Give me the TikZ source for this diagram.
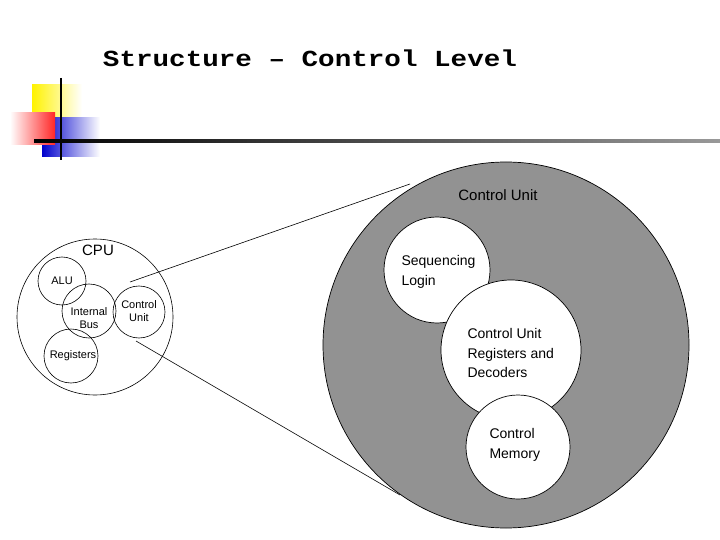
\documentclass[tikz,border=0pt]{standalone}
\usepackage{fontspec}
\setmainfont{Liberation Sans}
\newfontfamily\monob{Liberation Mono}
\begin{document}
\begin{tikzpicture}[x=1pt,y=-1pt,
  circ/.style={draw=black,line width=0.7pt,fill=white},
  lbl/.style={font=\fontsize{14}{19.5}\selectfont,align=left},
  sl/.style={font=\fontsize{11}{13}\selectfont,align=center,inner sep=0pt}]
\useasboundingbox (0,0) rectangle (720,540);
% decoration
\shade[left color=yellow!90!orange,right color=white] (32,85) rectangle (82,117);
\shade[left color=blue!80!black,right color=white] (42,118) rectangle (100,157);
\shade[right color=red!85,left color=white] (10,113) rectangle (55,145);
\draw[line width=1.8pt] (61,78) -- (61,160);
\shade[left color=black,right color=gray!80] (34,140) rectangle (720,142.5);
\node[font=\monob\bfseries\fontsize{23}{26}\selectfont,xscale=1.2] (title) at (310,58) {Structure – Control Level};
% big circle
\node[circle,draw=black,line width=0.7pt,fill=gray!45!black!55,minimum size=366pt,inner sep=0pt] (big) at (506,345) {};
\node[font=\fontsize{15}{16}\selectfont] (cut) at (498,195) {Control Unit};
\node[circle,circ,minimum size=106pt,inner sep=0pt] (seq) at (437,270) {};
\node[circle,circ,minimum size=140pt,inner sep=0pt] (cur) at (511,350) {};
\node[circle,circ,minimum size=104pt,inner sep=0pt] (cm) at (518,447) {};
\node[lbl,anchor=west] (seqt) at (398,272) {Sequencing\\Login};
\node[lbl,anchor=west] (curt) at (464,353) {Control Unit\\Registers and\\Decoders};
\node[lbl,anchor=west] (cmt) at (486,445) {Control\\Memory};
% small CPU
\node[circle,draw=black,line width=0.6pt,minimum size=156pt,inner sep=0pt] (cpu) at (95,317) {};
\node[font=\fontsize{15}{16}\selectfont] (cput) at (98,250) {CPU};
\node[circle,draw,line width=0.6pt,minimum size=48pt,inner sep=0pt] (alu) at (62,281) {};
\node[circle,draw,line width=0.6pt,minimum size=54pt,inner sep=0pt] (bus) at (89,311) {};
\node[circle,draw,line width=0.6pt,minimum size=52pt,inner sep=0pt] (cu) at (139,312) {};
\node[circle,draw,line width=0.6pt,minimum size=54pt,inner sep=0pt] (reg) at (71,356) {};
\node[sl] at (62,281) {ALU};
\node[sl] at (89,318) {Internal\\Bus};
\node[sl] at (139,311) {Control\\Unit};
\node[sl] at (73,356) {Registers};
\coordinate (a1) at (130,282);
\coordinate (a2) at (136,341);
\coordinate (b1) at (410,184);
\coordinate (b2) at (400,495);
\draw[line width=0.6pt] (a1) -- (b1);
\draw[line width=0.6pt] (a2) -- (b2);
\end{tikzpicture}
\end{document}
